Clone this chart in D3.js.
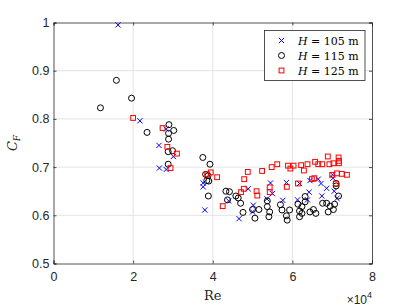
<!DOCTYPE html>
<html><head><meta charset="utf-8">
<script src="https://cdn.jsdelivr.net/npm/d3@7"></script>
<style>body{margin:0;background:#fff}svg{display:block}</style>
</head><body>
<script>
// Re values in units of 1e4, CF values
const re105 = [1.62,2.17,2.83,2.65,3.01,2.66,2.83,3.76,3.76,3.80,4.40,4.66,4.89,5.02,5.00,5.45,5.85,5.76,6.13,5.36,6.44,6.65,6.72,6.86,7.01,7.02,6.42,6.74,6.38,6.18,7.12,5.50,7.05];
const cf105 = [0.995,0.796,0.779,0.745,0.722,0.698,0.695,0.667,0.659,0.611,0.630,0.593,0.655,0.621,0.607,0.667,0.668,0.631,0.632,0.634,0.672,0.675,0.666,0.656,0.684,0.677,0.648,0.640,0.632,0.666,0.635,0.645,0.650];
const re115 = [1.18,1.58,1.96,2.35,2.90,3.02,2.89,2.89,2.88,2.99,2.88,3.75,3.93,3.82,3.88,3.85,3.90,3.89,4.33,4.37,4.42,4.64,4.70,4.76,5.06,5.16,5.37,5.37,5.43,5.41,5.74,5.85,5.87,5.93,6.14,6.18,6.18,6.24,6.24,6.32,6.32,6.44,6.53,6.59,6.76,6.86,6.95,7.06,7.03,6.90,7.10,7.10,7.16,5.00,5.70,4.58];
const cf115 = [0.823,0.880,0.843,0.772,0.788,0.776,0.770,0.758,0.732,0.734,0.706,0.720,0.706,0.685,0.682,0.672,0.671,0.640,0.650,0.632,0.649,0.636,0.625,0.606,0.594,0.612,0.630,0.618,0.607,0.597,0.611,0.599,0.590,0.611,0.623,0.609,0.597,0.618,0.604,0.628,0.639,0.607,0.612,0.604,0.625,0.625,0.619,0.623,0.612,0.607,0.666,0.661,0.640,0.612,0.622,0.640];
const re125 = [2.00,2.74,2.86,3.10,2.94,3.95,3.86,4.11,4.25,4.88,4.79,4.78,4.71,5.10,5.12,5.62,5.48,5.24,5.89,5.95,6.03,6.22,6.14,5.86,5.43,5.43,6.89,7.16,7.17,7.17,7.03,6.93,6.75,6.65,6.57,6.38,6.29,6.55,6.49,7.12,7.24,7.37,7.00,7.09];
const cf125 = [0.802,0.781,0.742,0.728,0.698,0.689,0.685,0.679,0.619,0.690,0.675,0.655,0.648,0.650,0.641,0.706,0.700,0.692,0.703,0.697,0.703,0.704,0.666,0.659,0.658,0.648,0.722,0.720,0.713,0.708,0.708,0.706,0.706,0.706,0.711,0.706,0.693,0.677,0.675,0.687,0.686,0.684,0.684,0.666];
const xTicks = [0,2,4,6,8];
const yTicks = [0.5,0.6,0.7,0.8,0.9,1];
const legendLabels = ["105","115","125"];

const W=411,H=308;
const L=53.5,R=372,T=22.5,B=263.5;
const svg=d3.select("body").append("svg").attr("width",W).attr("height",H);
const x=d3.scaleLinear().domain([0,8]).range([L,R]);
const y=d3.scaleLinear().domain([0.5,1]).range([B,T]);
const axc="#262626";

// grid
const g=svg.append("g");
g.selectAll(".gx").data(xTicks.slice(1,-1)).join("line")
  .attr("x1",d=>x(d)).attr("x2",d=>x(d)).attr("y1",T).attr("y2",B)
  .attr("stroke","#e3e3e3").attr("stroke-width",1);
g.selectAll(".gy").data(yTicks.slice(1,-1)).join("line")
  .attr("y1",d=>y(d)).attr("y2",d=>y(d)).attr("x1",L).attr("x2",R)
  .attr("stroke","#e3e3e3").attr("stroke-width",1);

// axes
const fmtY=d=>d===1?"1":d3.format(".1f")(d);
const ax=svg.append("g").attr("transform",`translate(0,${B})`)
  .call(d3.axisBottom(x).tickValues(xTicks).tickSize(-3).tickPadding(9).tickFormat(d3.format("d")));
const ay=svg.append("g").attr("transform",`translate(${L},0)`)
  .call(d3.axisLeft(y).tickValues(yTicks).tickSize(-3).tickPadding(4).tickFormat(fmtY));
const axT=svg.append("g").attr("transform",`translate(0,${T})`)
  .call(d3.axisTop(x).tickValues(xTicks).tickSize(-3).tickFormat(""));
const ayR=svg.append("g").attr("transform",`translate(${R},0)`)
  .call(d3.axisRight(y).tickValues(yTicks).tickSize(-3).tickFormat(""));
[ax,ay,axT,ayR].forEach(a=>{
  a.selectAll("path").attr("stroke",axc).attr("stroke-width",0.8);
  a.selectAll("line").attr("stroke",axc).attr("stroke-width",0.8);
  a.selectAll("text").attr("fill",axc).attr("font-family","Liberation Sans, Arial, sans-serif").attr("font-size",12.5);
});

// markers
function drawSeries(xs,ys,type){
  const data=xs.map((v,i)=>[v,ys[i]]);
  const gg=svg.append("g");
  if(type==="x"){
    gg.selectAll("path").data(data).join("path")
      .attr("d",d=>{const cx=x(d[0]),cy=y(d[1]),s=2.6;return `M${cx-s},${cy-s}L${cx+s},${cy+s}M${cx-s},${cy+s}L${cx+s},${cy-s}`;})
      .attr("stroke","#0000ff").attr("stroke-width",1).attr("fill","none");
  } else if(type==="o"){
    gg.selectAll("circle").data(data).join("circle")
      .attr("cx",d=>x(d[0])).attr("cy",d=>y(d[1])).attr("r",3)
      .attr("stroke","#000").attr("stroke-width",1).attr("fill","none");
  } else {
    gg.selectAll("rect").data(data).join("rect")
      .attr("x",d=>x(d[0])-2.4).attr("y",d=>y(d[1])-2.4).attr("width",4.8).attr("height",4.8)
      .attr("stroke","#ff0000").attr("stroke-width",1).attr("fill","none");
  }
}
drawSeries(re105,cf105,"x");
drawSeries(re115,cf115,"o");
drawSeries(re125,cf125,"s");

// labels
svg.append("text").attr("x",(L+R)/2).attr("y",300).attr("text-anchor","middle")
  .attr("font-family","DejaVu Serif, Liberation Serif, serif").attr("font-size",13).attr("fill",axc).text("Re");
const xl=svg.append("text").attr("x",R).attr("y",304).attr("text-anchor","end")
  .attr("font-family","Liberation Sans, Arial, sans-serif").attr("font-size",12).attr("fill",axc);
xl.append("tspan").text("×10");
xl.append("tspan").attr("dy",-6).attr("font-size",9).text("4");
const yl=svg.append("text").attr("transform",`translate(17,${(T+B)/2}) rotate(-90)`).attr("text-anchor","middle")
  .attr("font-family","DejaVu Serif, Liberation Serif, serif").attr("font-style","italic").attr("font-size",13).attr("fill",axc);
yl.append("tspan").text("C");
yl.append("tspan").attr("dy",3).attr("font-size",9).text("F");

// legend
const lg=svg.append("g");
lg.append("rect").attr("x",264.5).attr("y",30.5).attr("width",100.5).attr("height",50)
  .attr("fill","#fff").attr("stroke",axc).attr("stroke-width",0.8);
const types=["x","o","s"];
legendLabels.forEach((lab,i)=>{
  const cy=40.5+i*15,cx=281.5;
  if(types[i]==="x") lg.append("path").attr("d",`M${cx-2.6},${cy-2.6}L${cx+2.6},${cy+2.6}M${cx-2.6},${cy+2.6}L${cx+2.6},${cy-2.6}`).attr("stroke","#0000ff").attr("stroke-width",1).attr("fill","none");
  else if(types[i]==="o") lg.append("circle").attr("cx",cx).attr("cy",cy).attr("r",3).attr("stroke","#000").attr("fill","none");
  else lg.append("rect").attr("x",cx-2.4).attr("y",cy-2.4).attr("width",4.8).attr("height",4.8).attr("stroke","#ff0000").attr("fill","none");
  const t=lg.append("text").attr("x",298).attr("y",cy+4).attr("font-family","DejaVu Serif, Liberation Serif, serif").attr("font-size",11).attr("fill","#000");
  t.append("tspan").attr("font-style","italic").text("H");
  t.append("tspan").text(` = ${lab} m`);
});
</script>
</body></html>
